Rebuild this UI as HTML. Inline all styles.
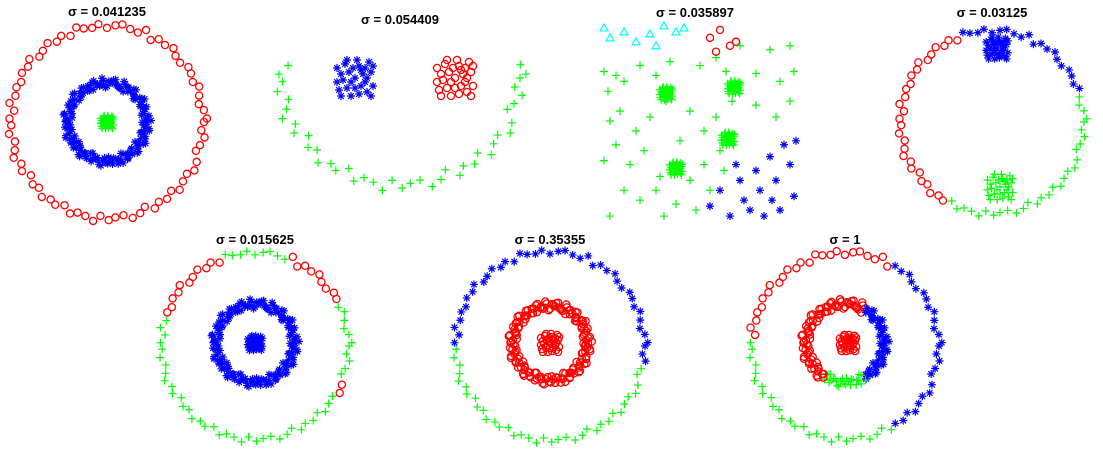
<!DOCTYPE html>
<html><head><meta charset="utf-8"><style>
html,body{margin:0;padding:0;background:#fff;}
svg{display:block;font-family:"Liberation Sans",sans-serif;}
.t{font-weight:bold;font-size:13px;text-anchor:middle;}
</style></head><body>
<svg id="c" width="1103" height="459">
<text class="t" x="107" y="16">σ = 0.041235</text>
<text class="t" x="400" y="24">σ = 0.054409</text>
<text class="t" x="695" y="17">σ = 0.035897</text>
<text class="t" x="992" y="17">σ = 0.03125</text>
<text class="t" x="255" y="244">σ = 0.015625</text>
<text class="t" x="550" y="244">σ = 0.35355</text>
<text class="t" x="845" y="244">σ = 1</text>
</svg>
<script>
// shared hand-read angle list (degrees, screen coords, 90 = down)
const A = [0,5,9,14,18,24,29,33,38,43,47,52,57,61,66,70,75,80,85,89,94,98,103,108,112,117,122,126,131,136,140,145,150,154,159,163,168,173,178,182,187,191,196,201,205,210,215,219,224,228,233,238,242,247,252,256,261,265,270,275,279,284,289,293,298,302,307,312,316,321,326,330,335,339,344,349,353,358];
const J = [1.00,0.96,1.03,0.98,0.94,1.02,1.05,0.97,0.99,1.04,0.95,1.01,0.97,1.03,0.93,1.00,1.04,0.96,0.98,1.02,0.95,1.05,0.99,0.97,1.03,0.94,1.01,0.98,1.04,0.96,1.00,0.93,1.02,0.97,1.05,0.99,0.95,1.03,0.98,1.01,0.94,1.04,0.97,1.00,0.96,1.02,0.99,1.05,0.95,0.98,1.03,0.96,1.01,0.94,1.04,0.99,0.97,1.02,0.95,1.00,1.03,0.98,0.96,1.05,0.93,1.01,0.99,1.04,0.97,0.95,1.02,1.00,0.96,1.03,0.98,0.94,1.01,1.05,0.97,0.99];
const B = [[0,0],[0.5,0.2],[-0.4,0.5],[0.2,-0.6],[-0.7,-0.2],[0.8,-0.3],[-0.2,0.9],[0.6,0.7],[-0.8,0.6],[0.3,0.4],[-0.5,-0.7],[0.9,0.4],[0.1,-0.9],[-0.9,-0.5],[0.4,-0.2],[-0.3,-0.3],[0.7,-0.8],[-0.6,0.1],[0.0,0.5],[0.5,-0.5],[-0.1,-0.5],[0.8,0.9],[-0.7,0.9],[0.2,0.8],[-0.4,-0.9],[0.6,0.0],[-0.9,0.2],[0.3,-0.4],[-0.2,0.2],[0.9,-0.6]];
// rings: panel center, radius, jitter gain, colour segments [from,to,class]
const rings = [
 {p:1,cx:107,cy:122,r:97,k:0.6,segs:[[0,360,'o']]},
 {p:1,cx:107,cy:122,r:40,k:2,segs:[[0,360,'s']]},
 {p:4,cx:992,cy:122,r:92,k:0.6,segs:[[120,250,'o'],[250,340,'s'],[340,360,'p'],[0,120,'p']]},
 {p:5,cx:255,cy:346,r:94,k:0.6,segs:[[200,250,'o'],[250,290,'p'],[290,335,'o'],[335,360,'p'],[0,20,'p'],[20,30,'o'],[30,200,'p']]},
 {p:5,cx:255,cy:343,r:40,k:2,segs:[[0,360,'s']]},
 {p:6,cx:550,cy:346,r:95,k:0.6,segs:[[180,360,'s'],[0,10,'s'],[10,180,'p']]},
 {p:6,cx:550,cy:343,r:38,k:2,segs:[[0,360,'o']]},
 {p:7,cx:845,cy:346,r:94,k:0.6,segs:[[185,300,'o'],[300,360,'s'],[0,60,'s'],[60,185,'p']]},
 {p:7,cx:845,cy:343,r:40,k:2,segs:[[120,300,'o'],[300,360,'s'],[0,60,'s'],[60,120,'p']]}
];
const blobs = [
 {cx:107,cy:122,h:7,c:'p'},{cx:355,cy:78,h:20,c:'s'},{cx:455,cy:78,h:20,c:'o'},
 {cx:997,cy:48,h:12,c:'s'},{cx:1000,cy:187,h:14,c:'p'},
 {cx:255,cy:343,h:8,c:'s'},{cx:550,cy:343,h:10,c:'o'},{cx:848,cy:343,h:9,c:'o'}
];
const moon = {cx:400,cy:78,rx:120,ry:108};
const p3green = [[0.02,0.25],[0.08,0.27],[0.04,0.35],[0.12,0.30],[0.20,0.22],[0.28,0.27],[0.35,0.20],[0.50,0.22],[0.58,0.18],[0.63,0.25],[0.70,0.12],[0.85,0.14],[0.95,0.12],[0.97,0.25],[0.90,0.30],[0.78,0.26],[0.05,0.50],[0.10,0.45],[0.18,0.55],[0.25,0.48],[0.33,0.40],[0.45,0.45],[0.52,0.55],[0.40,0.60],[0.58,0.48],[0.66,0.40],[0.78,0.42],[0.88,0.48],[0.95,0.40],[0.02,0.70],[0.08,0.62],[0.15,0.72],[0.22,0.65],[0.30,0.78],[0.12,0.85],[0.20,0.90],[0.28,0.85],[0.38,0.92],[0.45,0.80],[0.52,0.72],[0.60,0.65],[0.05,0.98],[0.32,0.98],[0.48,0.95],[0.55,0.85],[0.62,0.75]];
const p3blobs = [[0.33,0.36],[0.67,0.33],[0.64,0.59],[0.38,0.74]];
const p3blue = [[0.55,0.93],[0.60,0.85],[0.65,0.98],[0.70,0.80],[0.72,0.90],[0.78,0.75],[0.80,0.85],[0.85,0.68],[0.88,0.80],[0.92,0.62],[0.95,0.72],[0.97,0.88],[0.90,0.95],[0.82,0.98],[0.75,0.95],[0.98,0.60],[0.68,0.72],[0.86,0.90]];
const p3cyan = [[0.02,0.03],[0.05,0.08],[0.12,0.05],[0.18,0.10],[0.25,0.06],[0.28,0.12],[0.32,0.02],[0.38,0.05],[0.42,0.03]];
const p3red = [[0.55,0.08],[0.60,0.04],[0.65,0.12],[0.68,0.10],[0.58,0.15]];

const svg = document.getElementById('c');
const NS = 'http://www.w3.org/2000/svg';
const p3x = v => 600 + v*200, p3y = v => 22 + v*198;
function mark(x,y,c){
  let el;
  if(c==='o'){
    el=document.createElementNS(NS,'circle');
    el.setAttribute('cx',x);el.setAttribute('cy',y);el.setAttribute('r',3.6);
    el.setAttribute('fill','none');el.setAttribute('stroke','#f00');el.setAttribute('stroke-width','1.3');
  } else {
    el=document.createElementNS(NS,'path');
    let d,col,s=4;
    if(c==='p'){d=`M${x-s} ${y}H${x+s}M${x} ${y-s}V${y+s}`;col='#0f0';}
    else if(c==='s'){let q=s*0.7;d=`M${x-s} ${y}H${x+s}M${x} ${y-s}V${y+s}M${x-q} ${y-q}L${x+q} ${y+q}M${x-q} ${y+q}L${x+q} ${y-q}`;col='#00f';}
    else {d=`M${x} ${y-4}L${x+4} ${y+3}L${x-4} ${y+3}Z`;col='#0ff';}
    el.setAttribute('d',d);el.setAttribute('fill','none');el.setAttribute('stroke',col);el.setAttribute('stroke-width','1.2');
  }
  
  
  svg.appendChild(el);
}
rings.forEach(g=>{
  A.forEach((a,i)=>{
    const seg=g.segs.find(s=>a>=s[0]&&a<s[1]); if(!seg) return;
    const rr=g.r*(1+(J[i]-1)*g.k), t=a*Math.PI/180;
    mark(g.cx+rr*Math.cos(t), g.cy+rr*Math.sin(t), seg[2]);
    if(g.k>1){const t2=(a+2.5)*Math.PI/180, r2=g.r*(1+(J[(i+7)%J.length]-1)*g.k);
      mark(g.cx+r2*Math.cos(t2), g.cy+r2*Math.sin(t2), seg[2]);}
  });
});
A.forEach((a,i)=>{
  if(a>190&&a<350) return;
  const t=a*Math.PI/180, f=J[i];
  mark(moon.cx+moon.rx*f*Math.cos(t), moon.cy+moon.ry*f*Math.sin(t), 'p');
});
blobs.forEach(b=>B.forEach(o=>mark(b.cx+o[0]*b.h, b.cy+o[1]*b.h, b.c)));
p3blobs.forEach(c=>B.forEach(o=>mark(p3x(c[0])+o[0]*7, p3y(c[1])+o[1]*7, 'p')));
p3green.forEach(d=>mark(p3x(d[0]),p3y(d[1]),'p'));
p3blue.forEach(d=>mark(p3x(d[0]),p3y(d[1]),'s'));
p3cyan.forEach(d=>mark(p3x(d[0]),p3y(d[1]),'t'));
p3red.forEach(d=>mark(p3x(d[0]),p3y(d[1]),'o'));
</script>
</body></html>
